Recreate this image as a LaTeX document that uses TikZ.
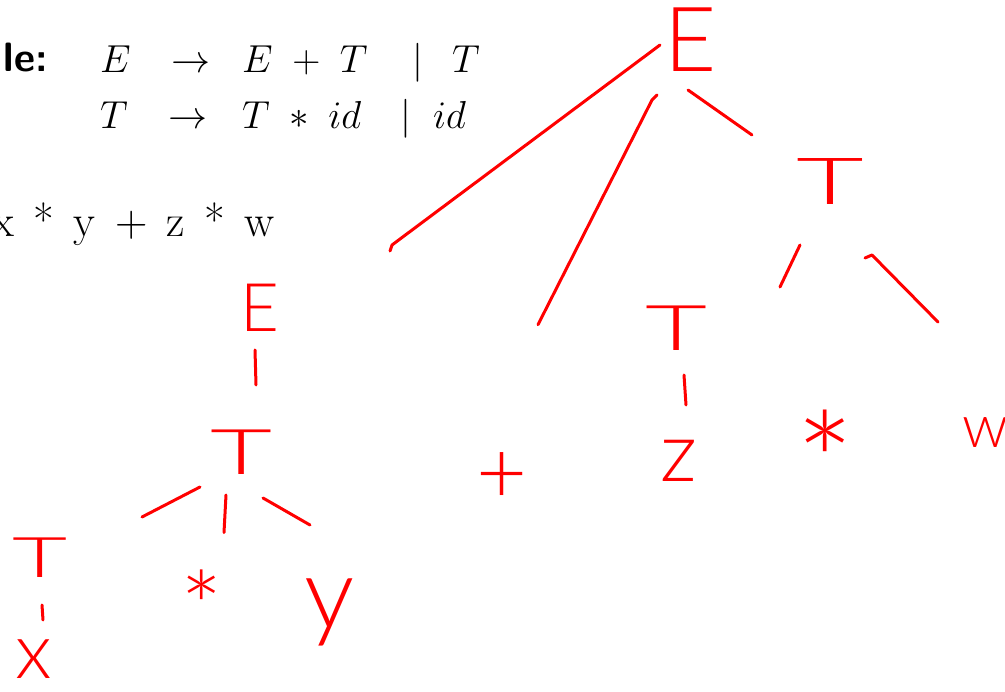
\RequirePackage{fix-cm}
\documentclass[tikz,border=0pt]{standalone}
\usepackage{fontspec}
\newfontfamily\handfont{Lato Light}
\newcommand\handsize[1]{\fontsize{#1}{#1}\selectfont}
\usetikzlibrary{calc}

\begin{document}
\begin{tikzpicture}[x=1pt,y=-1pt,
  hand/.style={draw=red,line width=3pt,line cap=round,line join=round},
  lbl/.style={text=red,inner sep=0pt,font=\handfont},
  gram/.style={inner sep=0pt,anchor=base west,font=\fontsize{39}{46}\selectfont}]
\useasboundingbox (0,0) rectangle (1005,692);
% grammar on the slide
\node[gram,anchor=base east,font=\sffamily\bfseries\fontsize{41}{48}\selectfont] (title) at (48,72) {le:};
\node[gram] (lhsE) at (100,73) {$E$};
\node[gram] (arrE) at (171,73) {$\rightarrow$};
\node[gram] (rhsE) at (242,73) {$E\;+\;T$};
\node[gram] (barE) at (412,73) {$|$};
\node[gram] (altE) at (452,73) {$T$};
\node[gram] (lhsT) at (100,129) {$T$};
\node[gram] (arrT) at (168,129) {$\rightarrow$};
\node[gram] (rhsT) at (242,129) {$T\;*\;id$};
\node[gram] (barT) at (400,129) {$|$};
\node[gram] (altT) at (433,129) {$id$};
\node[gram,font=\fontsize{45}{52}\selectfont] (input) at (-8,237) {\spaceskip=19.5pt\relax x * y + z * w};
% hand-drawn parse tree
\node[lbl,font=\handfont\handsize{90}] (Eroot) at (691,40) {E};
\node[lbl,font=\handfont\handsize{67}] (Eleft) at (260,308) {E};
\node[lbl,font=\handfont\handsize{88},anchor=north] (plus) at (502,452) {+};
\node[lbl,font=\handfont\handsize{65}] (Tright) at (830,182) {\scalebox{1.8}[1]{T}};
\node[lbl,font=\handfont\handsize{63}] (Tmid) at (677,328) {\scalebox{1.7}[1]{T}};
\node[lbl,font=\handfont\handsize{83}] (z) at (679,461) {z};
\node[lbl,font=\handfont\handsize{140},anchor=north] (starR) at (825,410) {*};
\node[lbl,font=\handfont\handsize{60}] (w) at (985,433) {w};
\node[lbl,font=\handfont\handsize{63}] (Tsub) at (242,452) {\scalebox{1.7}[1]{T}};
\node[lbl,font=\handfont\handsize{56}] (Tx) at (40,558) {\scalebox{1.7}[1]{T}};
\node[lbl,font=\handfont\handsize{78}] (x) at (34,659) {x};
\node[lbl,font=\handfont\handsize{100},anchor=north] (starL) at (202,570) {*};
\node[lbl,font=\handfont\handsize{100}] (y) at (330,612) {y};
% strokes of the tree
\draw[hand] ($(Eroot)+(-31,5)$) -- ($(Eleft)+(132,-63)$) -- ++(-2,6);
\draw[hand] ($(Eroot)+(-34,55)$) -- ($(Eroot)+(-39,60)$) -- ($(plus)+(36,-153)$);
\draw[hand] ($(Eroot)+(-3,50)$) -- ($(Tright)+(-78,-47)$);
\draw[hand] ($(Tright)+(-30,63)$) -- ($(Tmid)+(103,-41)$);
\draw[hand] ($(Tright)+(35,76)$) -- ($(Tright)+(42,73)$) -- ($(w)+(-47,-111)$);
\draw[hand] ($(Tmid)+(7,47)$) -- ($(z)+(7,-56)$);
\draw[hand] ($(Eleft)+(-5,42)$) -- ($(Tsub)+(14,-67)$);
\draw[hand] ($(Tsub)+(-42,35)$) -- ($(Tx)+(102,-41)$);
\draw[hand] ($(Tsub)+(-16,43)$) -- ($(starL)+(22,-75)$);
\draw[hand] ($(Tsub)+(21,46)$) -- ($(y)+(-20,-87)$);
\draw[hand] ($(Tx)+(2,47)$) -- ($(x)+(9,-39)$);
\end{tikzpicture}
\end{document}
